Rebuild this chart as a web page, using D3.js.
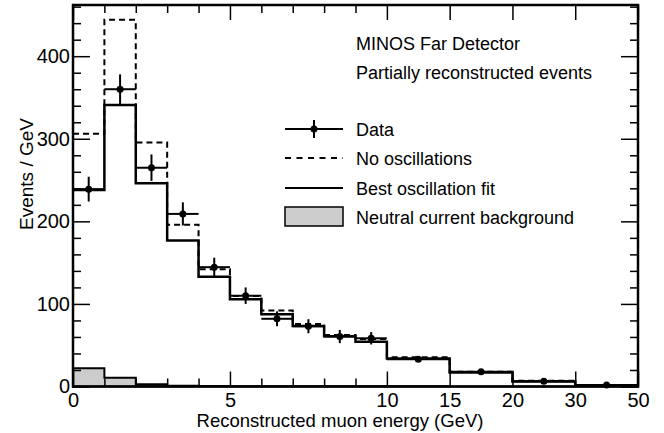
<!DOCTYPE html>
<html>
<head>
<meta charset="utf-8">
<script src="https://cdn.jsdelivr.net/npm/d3@7"></script>
<style>
  body { margin: 0; background: #fff; }
  svg { font-family: "Liberation Sans", Arial, Helvetica, sans-serif; }
</style>
</head>
<body>
<svg width="664" height="433"></svg>
<script>
// bin edges (GeV)
const edges = [0, 1, 2, 3, 4, 5, 6, 7, 8, 9, 10, 15, 20, 30, 50];
// Events / GeV per bin
const dataVals = [239, 360, 265, 209, 144.5, 110, 82, 73, 60.5, 58.4, 33, 18, 6.3, 1.8];
const dataErr  = [15, 18, 16, 14, 11.5, 10, 9, 8.5, 8, 7.5, 3, 2, 1, 0.5];
const noOsc    = [306, 444, 295.5, 195.8, 142, 109.7, 92, 75.8, 62.4, 57.6, 35.4, 18, 7, 1.5];
const bestFit  = [238, 341, 246, 176.7, 133, 105.7, 87.5, 73.3, 61, 54.3, 34, 17, 6, 1];
const ncBkg    = [22, 10.7, 2.7, 0.8, 0.5, 0.4, 0.3, 0.3, 0.3, 0.3, 0.2, 0.1, 0.1, 0.05];

const xMajor = [0, 5, 10, 15, 20, 30, 50];
const xMinor = [1, 2, 3, 4, 6, 7, 8, 9];
const yMajor = [0, 100, 200, 300, 400];
const yMinor = d3.range(20, 461, 20).filter(v => v % 100 !== 0);

const svg = d3.select("svg");
const L = 73, R = 638, T = 5, B = 386.5;
const w = (R - L) / 18;

// the axis is linear in bin index: 1 GeV bins up to 10, then wide bins of equal width
const x = d3.scaleLinear()
    .domain([0, 10, 15, 20, 30, 50])
    .range([L, L + 10 * w, L + 12 * w, L + 14 * w, L + 16 * w, L + 18 * w]);
const y = d3.scaleLinear().domain([0, 462]).range([B, T]);

function stepPoints(vals) {
  const pts = vals.map((v, i) => [edges[i], v]);
  pts.push([50, vals[vals.length - 1]]);
  return pts;
}
const line = d3.line().x(d => x(d[0])).y(d => y(d[1])).curve(d3.curveStepAfter);

// neutral current background (filled)
const area = d3.area().x(d => x(d[0])).y0(y(0)).y1(d => y(d[1])).curve(d3.curveStepAfter);
svg.append("path")
    .attr("d", area(stepPoints(ncBkg)))
    .attr("fill", "#cccccc")
    .attr("stroke", "#000")
    .attr("stroke-width", 2);

// no oscillations
svg.append("path")
    .attr("d", line(stepPoints(noOsc)))
    .attr("fill", "none")
    .attr("stroke", "#000")
    .attr("stroke-width", 2)
    .attr("stroke-dasharray", "6,4");

// best fit
svg.append("path")
    .attr("d", line(stepPoints(bestFit)))
    .attr("fill", "none")
    .attr("stroke", "#000")
    .attr("stroke-width", 2.5);

// data points with errors
const pts = svg.append("g").selectAll("g")
    .data(dataVals.map((v, i) => ({ v, e: dataErr[i], lo: edges[i], hi: edges[i + 1] })))
    .join("g");
pts.append("line")
    .attr("x1", d => x(d.lo)).attr("x2", d => x(d.hi))
    .attr("y1", d => y(d.v)).attr("y2", d => y(d.v))
    .attr("stroke", "#000").attr("stroke-width", 2);
pts.append("line")
    .attr("x1", d => (x(d.lo) + x(d.hi)) / 2).attr("x2", d => (x(d.lo) + x(d.hi)) / 2)
    .attr("y1", d => y(d.v - d.e)).attr("y2", d => y(d.v + d.e))
    .attr("stroke", "#000").attr("stroke-width", 2);
pts.append("circle")
    .attr("cx", d => (x(d.lo) + x(d.hi)) / 2)
    .attr("cy", d => y(d.v))
    .attr("r", 3.5)
    .attr("fill", "#000");

// axes, ticks pointing inwards
function styleAxis(g) {
  g.select(".domain").remove();
  g.selectAll(".tick line").attr("stroke", "#000").attr("stroke-width", 1.5);
  g.selectAll(".tick text").attr("font-size", 20).attr("fill", "#000")
      .attr("font-family", "\"Liberation Sans\", Arial, sans-serif");
}
svg.append("g").attr("transform", `translate(0,${B})`)
    .call(d3.axisBottom(x).tickValues(xMajor).tickSize(-15).tickPadding(6).tickFormat(d3.format("d")))
    .call(styleAxis);
svg.append("g").attr("transform", `translate(0,${B})`)
    .call(d3.axisBottom(x).tickValues(xMinor).tickSize(-8).tickFormat(""))
    .call(styleAxis);
svg.append("g").attr("transform", `translate(0,${T})`)
    .call(d3.axisTop(x).tickValues(xMajor).tickSize(-15).tickFormat(""))
    .call(styleAxis);
svg.append("g").attr("transform", `translate(0,${T})`)
    .call(d3.axisTop(x).tickValues(xMinor).tickSize(-8).tickFormat(""))
    .call(styleAxis);
svg.append("g").attr("transform", `translate(${L},0)`)
    .call(d3.axisLeft(y).tickValues(yMajor).tickSize(-17).tickPadding(3))
    .call(styleAxis);
svg.append("g").attr("transform", `translate(${L},0)`)
    .call(d3.axisLeft(y).tickValues(yMinor).tickSize(-8).tickFormat(""))
    .call(styleAxis);
svg.append("g").attr("transform", `translate(${R},0)`)
    .call(d3.axisRight(y).tickValues(yMajor).tickSize(-17).tickFormat(""))
    .call(styleAxis);
svg.append("g").attr("transform", `translate(${R},0)`)
    .call(d3.axisRight(y).tickValues(yMinor).tickSize(-8).tickFormat(""))
    .call(styleAxis);

// frame
svg.append("rect")
    .attr("x", L).attr("y", T).attr("width", R - L).attr("height", B - T)
    .attr("fill", "none").attr("stroke", "#000").attr("stroke-width", 2.5);

// axis titles
svg.append("text")
    .attr("x", 340).attr("y", 427)
    .attr("text-anchor", "middle").attr("font-size", 18.5)
    .text("Reconstructed muon energy (GeV)");
svg.append("text")
    .attr("transform", "translate(33,174) rotate(-90)")
    .attr("text-anchor", "middle").attr("font-size", 19)
    .text("Events / GeV");

// labels and legend
svg.append("text").attr("x", 356).attr("y", 50).attr("font-size", 18).text("MINOS Far Detector");
svg.append("text").attr("x", 356).attr("y", 79).attr("font-size", 18).text("Partially reconstructed events");

const legY = [129, 158, 188, 216.5];
const lg = svg.append("g");
lg.append("line").attr("x1", 285).attr("x2", 343).attr("y1", legY[0]).attr("y2", legY[0])
    .attr("stroke", "#000").attr("stroke-width", 2);
lg.append("line").attr("x1", 314).attr("x2", 314).attr("y1", legY[0] - 9).attr("y2", legY[0] + 9)
    .attr("stroke", "#000").attr("stroke-width", 2);
lg.append("circle").attr("cx", 314).attr("cy", legY[0]).attr("r", 3.5).attr("fill", "#000");
lg.append("line").attr("x1", 285).attr("x2", 343).attr("y1", legY[1]).attr("y2", legY[1])
    .attr("stroke", "#000").attr("stroke-width", 2).attr("stroke-dasharray", "6,5.5");
lg.append("line").attr("x1", 285).attr("x2", 343).attr("y1", legY[2]).attr("y2", legY[2])
    .attr("stroke", "#000").attr("stroke-width", 2);
lg.append("rect").attr("x", 285).attr("y", 207).attr("width", 58).attr("height", 19)
    .attr("fill", "#cccccc").attr("stroke", "#000").attr("stroke-width", 1.5);
const legText = ["Data", "No oscillations", "Best oscillation fit", "Neutral current background"];
lg.selectAll("text.leg").data(legText).join("text")
    .attr("class", "leg")
    .attr("x", 356).attr("y", (d, i) => legY[i] + 7)
    .attr("font-size", 18)
    .text(d => d);
</script>
</body>
</html>
